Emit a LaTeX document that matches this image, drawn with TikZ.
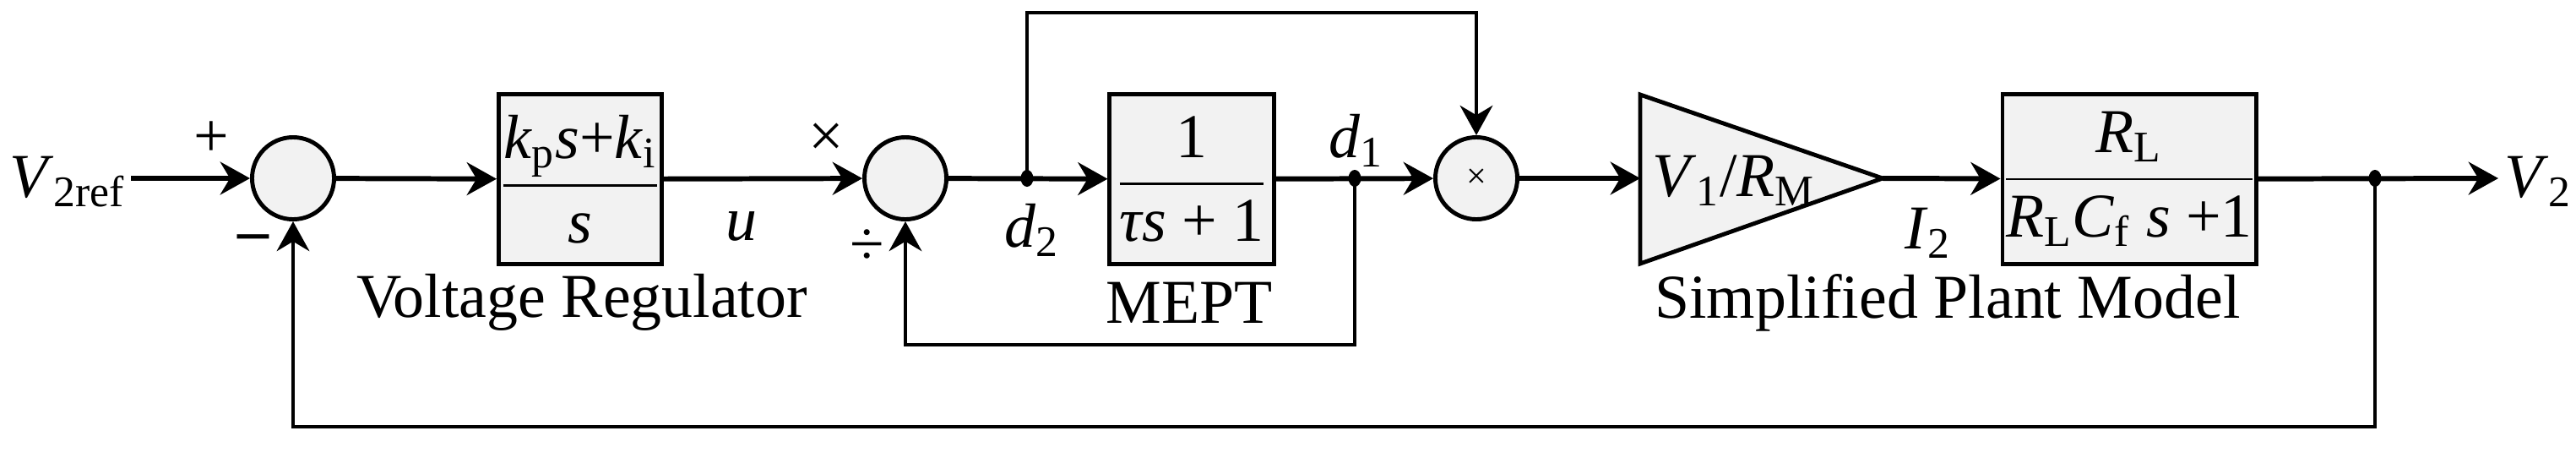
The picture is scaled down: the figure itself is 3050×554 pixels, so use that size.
\documentclass[tikz,border=0pt]{standalone}
\usepackage{amsmath}
\usepackage{fontspec}
\setmainfont{Liberation Serif}
\usetikzlibrary{arrows.meta,shapes.geometric}
\newcommand\iv[1]{\textit{#1}}
\newcommand\sbs[1]{\textsubscript{#1}}
\begin{document}
\begin{tikzpicture}[x=0.01cm,y=-0.01cm,
  font=\fontsize{21}{25}\selectfont,
  sig/.style={line width=1.7pt,-{Stealth[length=10pt,width=11pt]}},
  fb/.style={line width=1.2pt,-{Stealth[length=10pt,width=11pt]}},
  blk/.style={draw,line width=1.4pt,fill=black!5,minimum width=1.93cm,minimum height=2cm,inner sep=0pt,anchor=center},
  sum/.style={draw,circle,line width=1.4pt,fill=black!5,minimum size=0.97cm,inner sep=0pt},
  dot/.style={fill,ellipse,minimum width=0.15cm,minimum height=0.2cm,inner sep=0pt}]
\useasboundingbox (0,0) rectangle (3050,554);
\node[anchor=center] (vin) at (80,215) {\iv{V}\sbs{2ref}};
\coordinate (in) at (155,211);
\node[sum] (s1) at (347,211) {};
\node[blk] (b1) at (687,212) {$\dfrac{\mbox{\iv{k}\sbs{p}\iv{s}+\iv{k}\sbs{i}}}{\mbox{\iv{s}}}$};
\node[sum] (s2) at (1072,211) {};
\coordinate (d2) at (1216,211);
\node[dot] at (d2) {};
\node[blk,minimum width=1.94cm] (b2) at (1411,212) {$\dfrac{\mbox{1}}{\mbox{\iv{τs} + 1}}$};
\coordinate (d1) at (1604,211);
\node[dot] at (d1) {};
\node[sum] (m) at (1748,211) {\large×};
\coordinate (gl) at (1942,211);
\coordinate (ga) at (2229,211);
\draw[line width=1.4pt,fill=black!5] (1942,112) -- (ga) -- (1942,312) -- cycle;
\node[anchor=west] (gt) at (1944,214) {\iv{V}\sbs{1}/\iv{R}\sbs{M}};
\node[blk,minimum width=2.89cm] (b3) at (2521,212) {$\dfrac{\mbox{\iv{R}\sbs{L}}}{\mbox{\iv{R}\sbs{L}\iv{C}\sbs{f} \iv{s} +1}}$};
\coordinate (j) at (2812,211);
\node[dot] at (j) {};
\coordinate (out) at (2958,211);
\node (vout) at (3005,215) {\iv{V}\sbs{2}};
% labels
\node at (250,165) {+};
\node at (300,288) {\textbf{–}};
\node at (978,166) {×};
\node at (1027,293) {÷};
\node at (878,268) {\iv{u}};
\node at (1222,272) {\iv{d}\sbs{2}};
\node at (1606,166) {\iv{d}\sbs{1}};
\node at (2283,276) {\iv{I}\sbs{2}};
\node at (689,358) {Voltage Regulator};
\node at (1408,358) {MEPT};
\node at (2306,358) {Simplified Plant Model};
% connectors
\draw[sig] (in) -- (s1);
\draw[sig] (s1) -- (b1);
\draw[sig] (b1) -- (s2);
\draw[sig] (s2) -- (b2);
\draw[sig] (b2) -- (m);
\draw[sig] (m) -- (gl);
\draw[sig] (ga) -- (b3);
\draw[sig] (b3) -- (out);
\draw[fb] (d2) -- (1216,15) -| (m);
\draw[fb] (d1) -- (1604,408) -| (s2);
\draw[fb] (j) -- (2812,505) -| (s1);
\end{tikzpicture}
\end{document}
